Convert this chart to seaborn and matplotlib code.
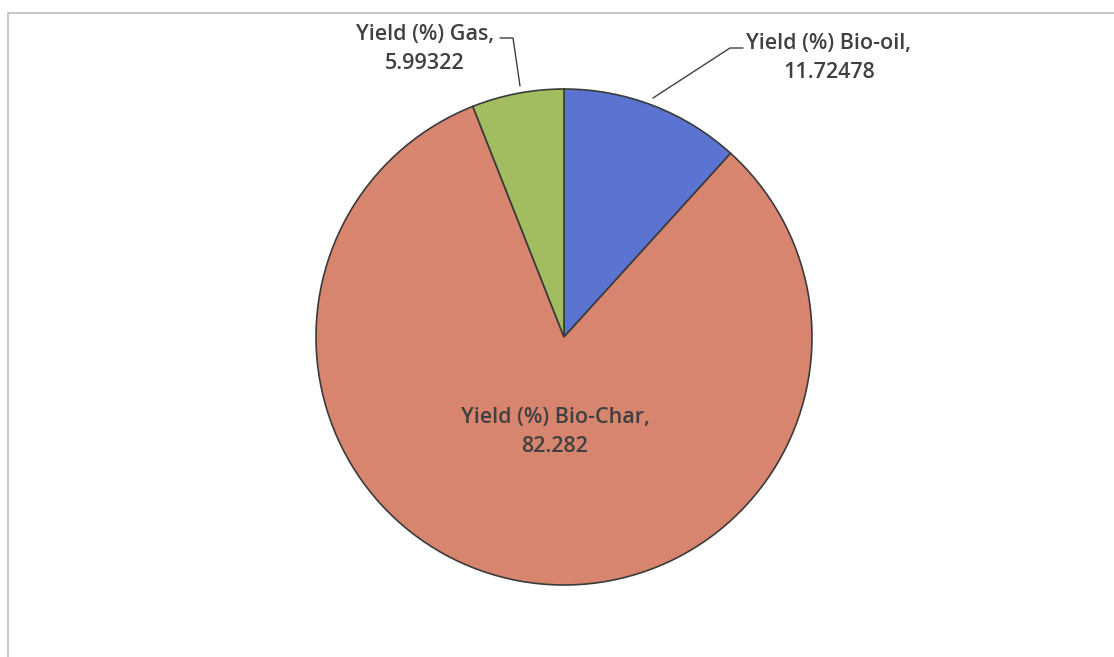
import matplotlib
matplotlib.use("Agg")
import matplotlib.pyplot as plt
import seaborn as sns

# yield fractions from the chart
labels = ['Yield (%) Bio-oil', 'Yield (%) Bio-Char', 'Yield (%) Gas']
values = ['11.72478', '82.282', '5.99322']
colors = ['#5b74d2', '#d8856f', '#a1bd60']

sns.set_theme(style='white')
plt.rcParams['font.family'] = ['Open Sans', 'DejaVu Sans']

W, H = 1114, 657
fig = plt.figure(figsize=(W / 100, H / 100), dpi=100)
ax = fig.add_axes([0, 0, 1, 1])

cx, cy, r = 564, H - 337, 248
ax.pie([float(v) for v in values], colors=colors, startangle=90, counterclock=False,
       center=(cx, cy), radius=r, frame=True,
       wedgeprops=dict(edgecolor='#3a3a3a', linewidth=1.2))
ax.set_xlim(0, W)
ax.set_ylim(0, H)
ax.set_aspect('equal')
ax.axis('off')

# frame: only top and left edges show in the scan
ax.plot([8, 8, W + 5], [-5, H - 13, H - 13], color='#c8c8c8', lw=1.5)

txt = dict(fontsize=15.5, color='#404040', fontweight='semibold', ha='center', va='center',
           linespacing=1.45)

# Bio-oil label with leader line
ax.text(829, H - 58, f'{labels[0]},\n{values[0]}', **txt)
ax.plot([653, 730, 743], [H - 98, H - 48, H - 48], color='#404040', lw=1)

# Gas label with leader line
ax.text(425, H - 49, f'{labels[2]},\n{values[2]}', **txt)
ax.plot([500, 513, 520], [H - 38, H - 38, H - 86], color='#404040', lw=1)

# Bio-Char label inside the slice
ax.text(555, H - 432, f'{labels[1]},\n{values[1]}', **txt)

fig.savefig('out.png', dpi=100)
